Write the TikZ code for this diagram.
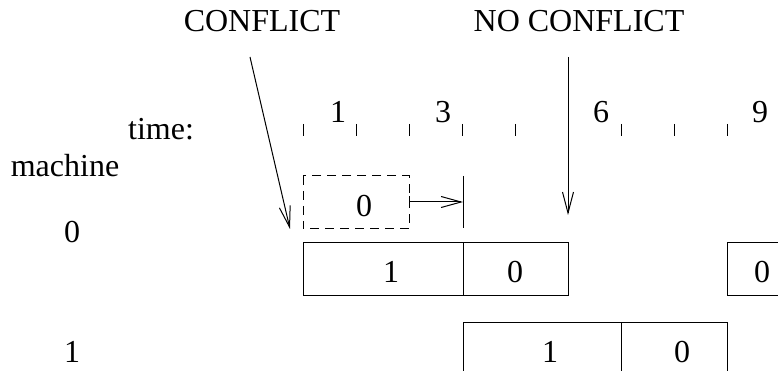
\documentclass[tikz,border=0pt]{standalone}
\usepackage{fontspec}
\setmainfont{Liberation Serif}
\usetikzlibrary{arrows.meta}
\begin{document}
\begin{tikzpicture}[x=1pt,y=-1pt,
  every node/.style={font=\fontsize{32}{38}\selectfont, inner sep=0pt, anchor=base},
  ln/.style={line width=1pt},
  jobbox/.style={ln, draw},
  dashbox/.style={ln, draw, dash pattern=on 9pt off 6pt},
  tickmark/.style={ln},
  callout/.style={ln, -{Straight Barb[length=21pt,width=11pt,line width=1pt]}},
  shiftarrow/.style={ln, {Bar[width=12pt,line width=1pt]}-{Straight Barb[length=20pt,width=11pt,line width=1pt]}}
]
\useasboundingbox (0,0) rectangle (778,371);
\clip (0,0) rectangle (778,371);

% titles
\node (conf) at (262,32) {CONFLICT};
\node (noconf) at (579,32) {NO CONFLICT};

% axis labels
\node (time) at (161,140) {time:};
\node (mach) at (65,177) {machine};
\node (m0) at (72,242) {0};
\node (m1) at (72,362) {1};

% tick labels
\node (t1) at (338,123) {1};
\node (t3) at (443,123) {3};
\node (t6) at (601,123) {6};
\node (t9) at (760,123) {9};

% ticks
\foreach \i in {0,...,8}{
  \draw[tickmark] ({303+53*\i},124) -- ({303+53*\i},136);
}

% dashed tentative job
\draw[dashbox] (303,176) rectangle (409,229);
\coordinate (dbE) at (409,202);
\node (d0) at (364,217) {0};
\coordinate (endT) at (463,202);
\draw[ln] (463,176) -- (463,228);
\draw[shiftarrow] (dbE) -- (endT);

% machine 0 jobs
\draw[jobbox] (303,242) rectangle (463,295);
\draw[jobbox] (463,242) rectangle (568,295);
\draw[jobbox] (727,242) rectangle (800,295);
\node (a1) at (391,282) {1};
\node (a0) at (515,282) {0};
\node (a2) at (762,282) {0};

% machine 1 jobs
\draw[jobbox] (463,322) rectangle (621,390);
\draw[jobbox] (621,322) rectangle (727,390);
\node (b1) at (550,362) {1};
\node (b0) at (682,362) {0};

% callout arrows
\coordinate (confS) at (250,57);
\coordinate (confE) at (290,229);
\coordinate (noS) at (568,57);
\coordinate (noE) at (568,215);
\draw[callout] (confS) -- (confE);
\draw[callout] (noS) -- (noE);
\end{tikzpicture}
\end{document}
